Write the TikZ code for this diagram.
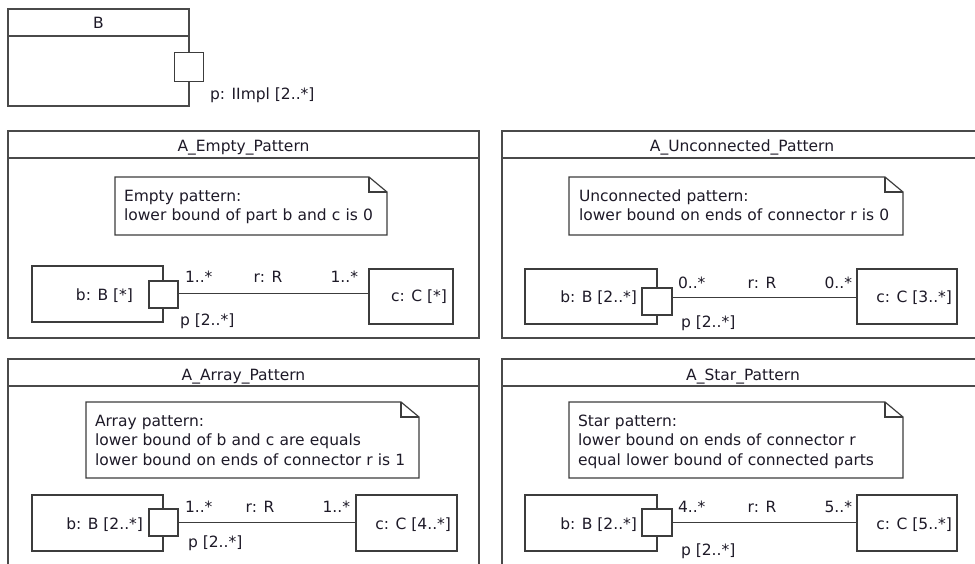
\documentclass[tikz,border=0pt]{standalone}
\usepackage{fontspec}
\setmainfont{DejaVu Sans}
\usetikzlibrary{calc}
\definecolor{lc}{HTML}{3C3C3C}
\definecolor{fc}{HTML}{4A4A4A}
\definecolor{tc}{HTML}{1E1A28}
\begin{document}
\begin{tikzpicture}[x=1pt,y=-1pt,
  every node/.style={font=\fontsize{15.5}{19.5}\selectfont, text=tc, inner sep=0pt, outer sep=0pt},
  frame/.style={draw=fc, line width=1.4pt, anchor=north west},
  partbox/.style={draw=lc, line width=1.2pt, anchor=north west, fill=white},
  portbox/.style={draw=lc, line width=1.2pt, fill=white},
  notebox/.style={anchor=north west},
  noteline/.style={draw=lc, line width=1.2pt, line join=miter},
  notetext/.style={anchor=base west, text width=330pt, align=left},
  conn/.style={draw=lc, line width=1.2pt},
  hdr/.style={draw=fc, line width=1.4pt}]
\useasboundingbox (0,0) rectangle (975,563);
\clip (0,0) rectangle (975,563);
\fill[white] (0,0) rectangle (975,563);

% ---------- class B ----------
\node[frame, minimum width=181pt, minimum height=97pt] (Bcls) at (8,9) {};
\draw[hdr] ([yshift=-27pt]Bcls.north west) -- ([yshift=-27pt]Bcls.north east);
\node[anchor=base] (Btitle) at (98.5,28.5) {B};
\node[portbox, minimum width=29pt, minimum height=29pt] (Bport) at (189.3,67) {};
\node[anchor=base west] (Bportlbl) at (210,99.5) {p: IImpl [2..*]};

% ---------- panels ----------
\node[frame, minimum width=471pt, minimum height=207pt] (pE) at (8,131) {};
\node[frame, minimum width=500pt, minimum height=207pt] (pU) at (502,131) {};
\node[frame, minimum width=471pt, minimum height=240pt] (pA) at (8,359) {};
\node[frame, minimum width=500pt, minimum height=240pt] (pS) at (502,359) {};
\foreach \p in {pE,pU,pA,pS}
  \draw[hdr] ([yshift=-27pt]\p.north west) -- ([yshift=-27pt]\p.north east);
\node[anchor=base] (tE) at (243.5,151.5) {A\_Empty\_Pattern};
\node[anchor=base] (tU) at (742,151.5) {A\_Unconnected\_Pattern};
\node[anchor=base] (tA) at (243.5,380) {A\_Array\_Pattern};
\node[anchor=base] (tS) at (743,380) {A\_Star\_Pattern};

% ---------- notes ----------
\node[notebox, minimum width=272pt, minimum height=58pt] (nE) at (115,177) {};
\node[notebox, minimum width=334pt, minimum height=58pt] (nU) at (569,177) {};
\node[notebox, minimum width=333pt, minimum height=76pt] (nA) at (86,402) {};
\node[notebox, minimum width=334pt, minimum height=76pt] (nS) at (569,402) {};
\foreach \n in {nE,nU,nA,nS}{
  \draw[noteline] (\n.north west) -- ([xshift=-18pt]\n.north east)
     -- ([yshift=-15pt]\n.north east) -- (\n.south east) -- (\n.south west) -- cycle;
  \draw[noteline] ([xshift=-18pt]\n.north east) -- ([xshift=-18pt,yshift=-15pt]\n.north east)
     -- ([yshift=-15pt]\n.north east);
}
\node[notetext] (xE) at (124,201) {Empty pattern:\\lower bound of part b and c is 0};
\node[notetext] (xU) at (579,201) {Unconnected pattern:\\lower bound on ends of connector r is 0};
\node[notetext] (xA) at (95,426) {Array pattern:\\lower bound of b and c are equals\\lower bound on ends of connector r is 1};
\node[notetext] (xS) at (578,426) {Star pattern:\\lower bound on ends of connector r\\equal lower bound of connected parts};

% ---------- Empty pattern parts ----------
\node[partbox, minimum width=131pt, minimum height=56pt] (bE) at (32,266) {};
\node[partbox, minimum width=84pt, minimum height=55pt] (cE) at (369,269) {};
\node[portbox, minimum width=29pt, minimum height=27pt] (portE) at (163.5,294.5) {};
\draw[conn] ($(portE.north east)!0.45!(portE.south east)$) coordinate (eE) -- (eE -| cE.west);
\node[anchor=base east] (lbE) at (133,300) {b: B [*]};
\node[anchor=base east] (lcE) at (447,301) {c: C [*]};
\node[anchor=base west] (m1E) at (185,282) {1..*};
\node[anchor=base] (rE) at (268,282) {r: R};
\node[anchor=base east] (m2E) at (358,282) {1..*};
\node[anchor=base west] (ppE) at (180,325) {p [2..*]};

% ---------- Unconnected pattern parts ----------
\node[partbox, minimum width=132pt, minimum height=55pt] (bU) at (525,269) {};
\node[partbox, minimum width=100pt, minimum height=55pt] (cU) at (857,269) {};
\node[portbox, minimum width=30pt, minimum height=27pt] (portU) at (657,301.5) {};
\draw[conn] ($(portU.north east)!0.36!(portU.south east)$) coordinate (eU) -- (eU -| cU.west);
\node[anchor=base east] (lbU) at (637,302) {b: B [2..*]};
\node[anchor=base east] (lcU) at (952,302) {c: C [3..*]};
\node[anchor=base west] (m1U) at (678,288) {0..*};
\node[anchor=base] (rU) at (762,288) {r: R};
\node[anchor=base east] (m2U) at (852,288) {0..*};
\node[anchor=base west] (ppU) at (681,327) {p [2..*]};

% ---------- Array pattern parts ----------
\node[partbox, minimum width=131pt, minimum height=56pt] (bA) at (32,495) {};
\node[partbox, minimum width=101pt, minimum height=56pt] (cA) at (356,495) {};
\node[portbox, minimum width=29pt, minimum height=27pt] (portA) at (163.5,522.5) {};
\draw[conn] (portA.east) -- (portA.east -| cA.west);
\node[anchor=base east] (lbA) at (143,529) {b: B [2..*]};
\node[anchor=base east] (lcA) at (451,529.5) {c: C [4..*]};
\node[anchor=base west] (m1A) at (185,512.5) {1..*};
\node[anchor=base] (rA) at (260,512.5) {r: R};
\node[anchor=base east] (m2A) at (350,512.5) {1..*};
\node[anchor=base west] (ppA) at (188,547) {p [2..*]};

% ---------- Star pattern parts ----------
\node[partbox, minimum width=132pt, minimum height=56pt] (bS) at (525,495) {};
\node[partbox, minimum width=100pt, minimum height=56pt] (cS) at (857,495) {};
\node[portbox, minimum width=30pt, minimum height=27pt] (portS) at (657,522.5) {};
\draw[conn] (portS.east) -- (portS.east -| cS.west);
\node[anchor=base east] (lbS) at (637,529) {b: B [2..*]};
\node[anchor=base east] (lcS) at (952,529.5) {c: C [5..*]};
\node[anchor=base west] (m1S) at (678,512.5) {4..*};
\node[anchor=base] (rS) at (762,512.5) {r: R};
\node[anchor=base east] (m2S) at (852,512.5) {5..*};
\node[anchor=base west] (ppS) at (681,555) {p [2..*]};
\end{tikzpicture}
\end{document}
